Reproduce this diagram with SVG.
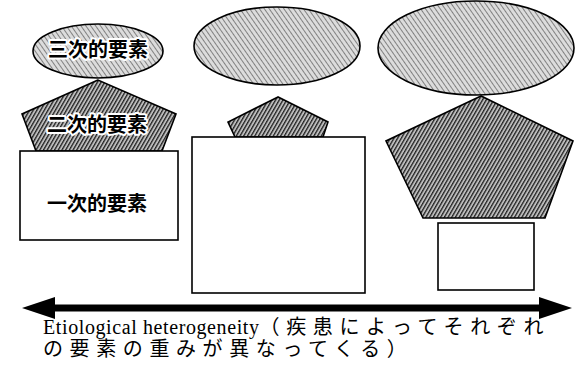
<svg xmlns="http://www.w3.org/2000/svg" width="576" height="370" viewBox="0 0 576 370">
<style>
.shape{stroke:#000;stroke-width:1.6}
.ell{fill:url(#stip)}
.pent{fill:url(#hatch)}
.box{fill:#fff}
.lbl{font-family:"Noto Sans CJK JP","Noto Sans CJK SC",sans-serif;font-weight:bold;font-size:20px;text-anchor:middle;dominant-baseline:central;fill:#000}
.halo{stroke:#fff;stroke-width:4;stroke-linejoin:round;paint-order:stroke}
.cap{font-family:"Liberation Serif","Noto Sans CJK JP",serif;font-size:20px;fill:#000}
</style>
<defs>
<pattern id="stip" width="4" height="4" patternUnits="userSpaceOnUse" patternTransform="rotate(55)">
<rect width="4" height="4" fill="#dcdcdc"/>
<rect x="0" y="0" width="4" height="0.9" fill="#777"/>
</pattern>
<pattern id="hatch" width="3.2" height="3.2" patternUnits="userSpaceOnUse" patternTransform="rotate(-60)">
<rect width="3.2" height="3.2" fill="#bdbdbd"/>
<rect x="0" y="0" width="3.2" height="1.3" fill="#222"/>
</pattern>
</defs>
<g id="col1-secondary">
<polygon class="shape pent" points="98,80 22,114 36,151 162,151 176,114"/>
<text class="lbl halo" x="97" y="123">二次的要素</text>
</g>
<g id="col1-tertiary">
<ellipse class="shape ell" cx="98" cy="51" rx="65" ry="27"/>
<text class="lbl halo" x="98" y="48">三次的要素</text>
</g>
<g id="col1-primary">
<rect class="shape box" x="20" y="151" width="158" height="89"/>
<text class="lbl" x="97" y="202">一次的要素</text>
</g>
<g id="col2-tertiary">
<ellipse class="shape ell" cx="277" cy="46" rx="83" ry="39"/>
</g>
<g id="col2-secondary">
<polygon class="shape pent" points="278,97 228,122 235,137 323,137 328,122"/>
</g>
<g id="col2-primary">
<rect class="shape box" x="192" y="137" width="173" height="156"/>
</g>
<g id="col3-tertiary">
<ellipse class="shape ell" cx="476" cy="48" rx="98" ry="47"/>
</g>
<g id="col3-secondary">
<polygon class="shape pent" points="481,96 386,141 423,218 545,218 573,141"/>
</g>
<g id="col3-primary">
<rect class="shape box" x="438" y="223" width="96" height="67"/>
</g>
<g id="connectors">
<rect x="50" y="304.5" width="494" height="7" fill="#000"/>
<polygon points="22,308 55,297 55,319" fill="#000"/>
<polygon points="572,308 539,297 539,319" fill="#000"/>
</g>
<g id="caption">
<text class="cap" x="43" y="334"><tspan letter-spacing="0.6">Etiological heterogeneity</tspan><tspan letter-spacing="6.6">（疾患によってそれぞれ</tspan></text>
<text class="cap" x="43" y="356" letter-spacing="6.6">の要素の重みが異なってくる）</text>
</g>
</svg>
